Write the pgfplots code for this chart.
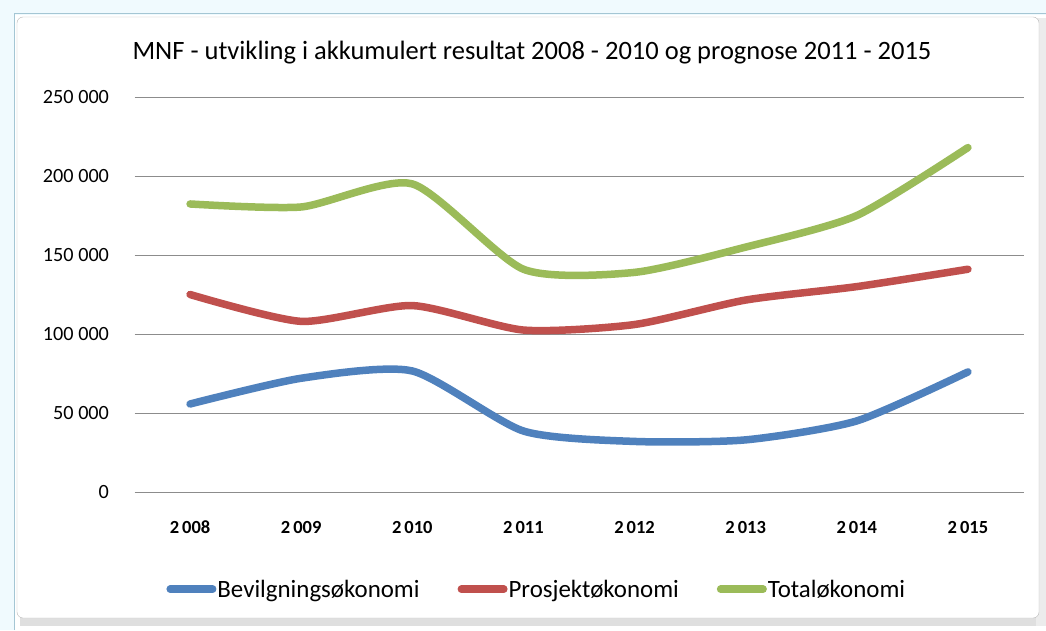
\documentclass[border=0pt]{standalone}
\usepackage{pgfplots}
\pgfplotsset{compat=1.18}
\usepackage{fontspec}
\setmainfont{Carlito}
\definecolor{cblue}{HTML}{4F81BD}
\definecolor{cred}{HTML}{C0504D}
\definecolor{cgreen}{HTML}{9BBB59}
\definecolor{gridc}{HTML}{8C8C8C}
\begin{document}
\begin{tikzpicture}[x=1pt,y=1pt]
\useasboundingbox (0,0) rectangle (1046,630);
\fill[white] (0,0) rectangle (1046,630);
% spreadsheet background
\fill[cyan!6] (0,0) rectangle (14,630);
\fill[cyan!6] (0,615) rectangle (1046,630);
\draw[cyan!40!gray!60, line width=1pt] (14,0) -- (14,616) -- (1046,616);
% shadow
\fill[gray!25] (20,4) rectangle (1046,14);
\fill[gray!15] (1036,4) rectangle (1046,612);
% chart area
\draw[gray!55, fill=white, rounded corners=6pt] (17,12) rectangle (1039,613);
\node[font=\fontsize{26.5}{30}\selectfont] at (532,577) {MNF - utvikling i akkumulert resultat 2008 - 2010 og prognose 2011 - 2015};
\begin{axis}[
  at={(134.5pt,138pt)}, anchor=south west,
  scale only axis, width=889pt, height=395pt,
  xmin=-0.5, xmax=7.5, ymin=0, ymax=250000,
  scaled y ticks=false,
  axis line style={draw=none},
  major tick length=0pt,
  ymajorgrids, grid style={gridc, line width=1pt},
  ytick={0,50000,100000,150000,200000,250000},
  yticklabels={0,50 000,100 000,150 000,200 000,250 000},
  xtick={0,...,7},
  xticklabels={2\,008,2\,009,2\,010,2\,011,2\,012,2\,013,2\,014,2\,015},
  yticklabel style={font=\fontsize{20.2}{24}\selectfont, anchor=east, xshift=-22pt},
  xticklabel style={font=\bfseries\fontsize{18.5}{22}\selectfont, anchor=center, yshift=-35pt},
  legend columns=3,
  legend style={draw=none, fill=none, at={(0.452,-0.246)}, anchor=center,
    font=\fontsize{24.9}{28}\selectfont,
    nodes={inner xsep=1pt},
    /tikz/every even column/.style={column sep=37pt}},
  legend image code/.code={\draw[#1, line width=7.5pt, line cap=round] (3.75pt,0) -- (46.25pt,0);},
  every axis plot/.append style={line width=7.5pt, line cap=round, line join=round, smooth, tension=0.4},
]
\addplot[cblue] coordinates {(0,55700) (1,72000) (2,76600) (3,38600) (4,32000) (5,33000) (6,45000) (7,76000)};
\addplot[cred] coordinates {(0,125000) (1,108000) (2,118000) (3,102500) (4,106000) (5,121500) (6,130000) (7,141000)};
\addplot[cgreen] coordinates {(0,182300) (1,180400) (2,195000) (3,141000) (4,139000) (5,155000) (6,175000) (7,218000)};
\legend{Bevilgningsøkonomi,Prosjektøkonomi,Totaløkonomi}
\end{axis}
\end{tikzpicture}
\end{document}
